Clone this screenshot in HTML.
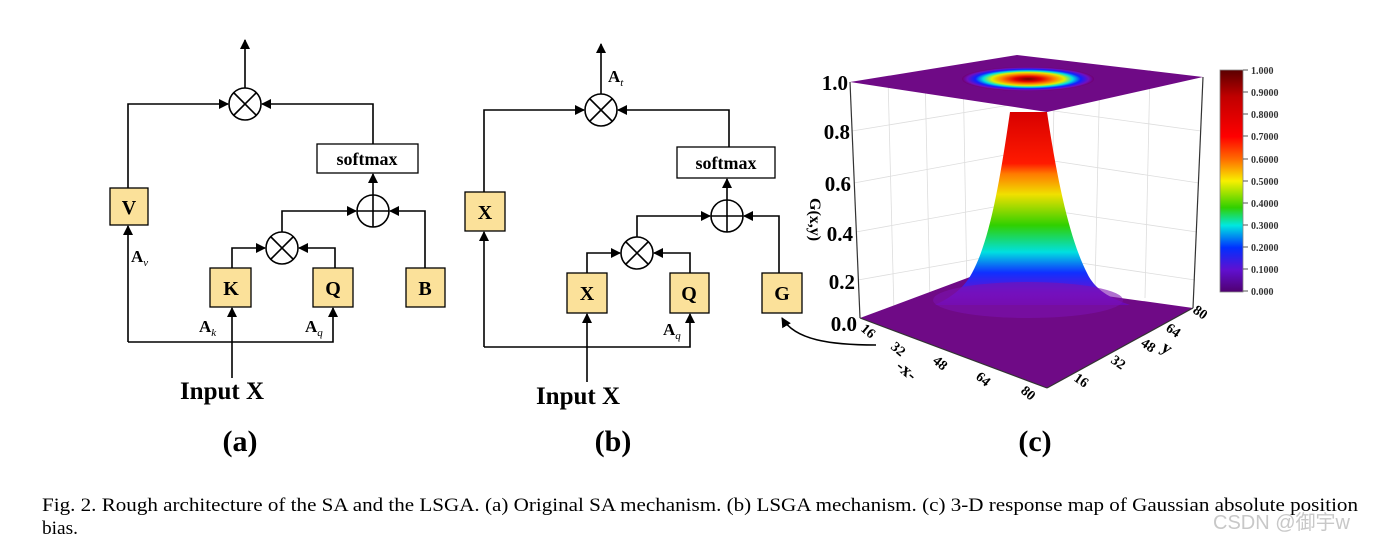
<!DOCTYPE html>
<html><head><meta charset="utf-8"><style>
html,body{margin:0;padding:0;background:#fff;}
svg{display:block;}
text{font-family:"Liberation Serif",serif;}
</style></head><body>
<svg width="1387" height="546" viewBox="0 0 1387 546" xmlns="http://www.w3.org/2000/svg">
<defs>
<marker id="ar" markerWidth="10" markerHeight="10" refX="9" refY="5" orient="auto" markerUnits="userSpaceOnUse">
<path d="M0,0 L10,5 L0,10 z" fill="#000"/></marker>
<linearGradient id="cone" x1="0" y1="112" x2="0" y2="318" gradientUnits="userSpaceOnUse">
<stop offset="0" stop-color="#d80000"/><stop offset="0.25" stop-color="#ff1a00"/>
<stop offset="0.3" stop-color="#ff7a00"/><stop offset="0.4" stop-color="#f0e000"/>
<stop offset="0.55" stop-color="#30d000"/><stop offset="0.68" stop-color="#00e0e0"/>
<stop offset="0.78" stop-color="#1030ff"/><stop offset="0.88" stop-color="#6a10d0"/>
<stop offset="1" stop-color="#700090"/></linearGradient>
<linearGradient id="cb" x1="0" y1="70" x2="0" y2="292" gradientUnits="userSpaceOnUse">
<stop offset="0" stop-color="#5a0000"/><stop offset="0.12" stop-color="#c00000"/>
<stop offset="0.3" stop-color="#ff0000"/><stop offset="0.4" stop-color="#ff6a00"/>
<stop offset="0.5" stop-color="#f8f000"/><stop offset="0.62" stop-color="#30d000"/>
<stop offset="0.7" stop-color="#00e8e0"/><stop offset="0.8" stop-color="#0030ff"/>
<stop offset="0.9" stop-color="#6010d0"/><stop offset="1" stop-color="#500070"/></linearGradient>
<radialGradient id="ring" cx="0.5" cy="0.5" r="0.5">
<stop offset="0" stop-color="#700000"/><stop offset="0.2" stop-color="#e00000"/>
<stop offset="0.4" stop-color="#ff8000"/><stop offset="0.55" stop-color="#e0f000"/>
<stop offset="0.68" stop-color="#00e0e0"/><stop offset="0.8" stop-color="#1020ff"/>
<stop offset="0.92" stop-color="#7010c0"/><stop offset="1" stop-color="#700070"/></radialGradient>
</defs>

<g stroke="#000" stroke-width="1.6" fill="none">
<line x1="245" y1="88" x2="245" y2="40" marker-end="url(#ar)"/>
<circle cx="245" cy="104" r="16"/>
<line x1="234" y1="93" x2="256" y2="115"/><line x1="256" y1="93" x2="234" y2="115"/>
<polyline points="128,188 128,104 228,104" marker-end="url(#ar)"/>
<polyline points="373,144 373,104 262,104" marker-end="url(#ar)"/>
<line x1="373" y1="195" x2="373" y2="174" marker-end="url(#ar)"/>
<circle cx="373" cy="211" r="16"/>
<line x1="357" y1="211" x2="389" y2="211"/><line x1="373" y1="195" x2="373" y2="227"/>
<polyline points="282,232 282,211 356,211" marker-end="url(#ar)"/>
<polyline points="425,268 425,211 390,211" marker-end="url(#ar)"/>
<circle cx="282" cy="248" r="16"/>
<line x1="271" y1="237" x2="293" y2="259"/><line x1="293" y1="237" x2="271" y2="259"/>
<polyline points="232,268 232,248 265,248" marker-end="url(#ar)"/>
<polyline points="335,268 335,248 299,248" marker-end="url(#ar)"/>
<polyline points="128,342 333,342 333,308" marker-end="url(#ar)"/>
<polyline points="128,342 128,226" marker-end="url(#ar)"/>
<line x1="232" y1="378" x2="232" y2="308" marker-end="url(#ar)"/>
<line x1="601" y1="94" x2="601" y2="44" marker-end="url(#ar)"/>
<circle cx="601" cy="110" r="16"/>
<line x1="590" y1="99" x2="612" y2="121"/><line x1="612" y1="99" x2="590" y2="121"/>
<polyline points="484,192 484,110 584,110" marker-end="url(#ar)"/>
<polyline points="729,147 729,110 618,110" marker-end="url(#ar)"/>
<line x1="727" y1="200" x2="727" y2="179" marker-end="url(#ar)"/>
<circle cx="727" cy="216" r="16"/>
<line x1="711" y1="216" x2="743" y2="216"/><line x1="727" y1="200" x2="727" y2="232"/>
<polyline points="637,237 637,216 710,216" marker-end="url(#ar)"/>
<polyline points="779,273 779,216 744,216" marker-end="url(#ar)"/>
<circle cx="637" cy="253" r="16"/>
<line x1="626" y1="242" x2="648" y2="264"/><line x1="648" y1="242" x2="626" y2="264"/>
<polyline points="587,273 587,253 620,253" marker-end="url(#ar)"/>
<polyline points="690,273 690,253 654,253" marker-end="url(#ar)"/>
<polyline points="484,347 690,347 690,314" marker-end="url(#ar)"/>
<polyline points="484,347 484,232" marker-end="url(#ar)"/>
<line x1="587" y1="382" x2="587" y2="314" marker-end="url(#ar)"/>
<path d="M876,345 C830,345 795,340 782,318" marker-end="url(#ar)"/>
</g>
<g stroke="#000" stroke-width="1.3" fill="#fbe19a">
<rect x="110" y="188" width="38" height="37"/>
<rect x="210" y="268" width="41" height="39"/>
<rect x="313" y="268" width="40" height="39"/>
<rect x="406" y="268" width="39" height="39"/>
<rect x="465" y="192" width="40" height="39"/>
<rect x="567" y="273" width="40" height="40"/>
<rect x="670" y="273" width="39" height="40"/>
<rect x="762" y="273" width="40" height="40"/>
<rect x="317" y="144" width="101" height="29" fill="#fff"/>
<rect x="677" y="147" width="98" height="31" fill="#fff"/>
</g>
<g font-weight="bold" font-size="20" text-anchor="middle">
<text x="129" y="214">V</text><text x="231" y="295">K</text><text x="333" y="295">Q</text><text x="425" y="295">B</text>
<text x="485" y="219">X</text><text x="587" y="300">X</text><text x="689" y="300">Q</text><text x="782" y="300">G</text>
<text x="367" y="165" font-size="18">softmax</text><text x="726" y="169" font-size="18">softmax</text>
<text x="222" y="399" font-size="25">Input X</text><text x="578" y="404" font-size="25">Input X</text>
<text x="240" y="451" font-size="30">(a)</text><text x="613" y="451" font-size="30">(b)</text><text x="1035" y="451" font-size="30">(c)</text>
</g>
<g font-weight="bold" font-size="17">
<text x="131" y="262">A<tspan font-size="11" font-style="italic" font-weight="normal" dy="4">v</tspan></text>
<text x="199" y="332">A<tspan font-size="11" font-style="italic" font-weight="normal" dy="4">k</tspan></text>
<text x="305" y="332">A<tspan font-size="11" font-style="italic" font-weight="normal" dy="4">q</tspan></text>
<text x="608" y="82">A<tspan font-size="11" font-style="italic" font-weight="normal" dy="4">t</tspan></text>
<text x="663" y="335">A<tspan font-size="11" font-style="italic" font-weight="normal" dy="4">q</tspan></text>
</g>

<g stroke="#ddd" stroke-width="0.8" fill="none">
<line x1="888" y1="78" x2="894" y2="312"/><line x1="925" y1="73" x2="930" y2="303"/><line x1="963" y1="65" x2="967" y2="292"/>
<line x1="1055" y1="60" x2="1050" y2="282"/><line x1="1100" y1="65" x2="1095" y2="288"/><line x1="1150" y1="70" x2="1145" y2="298"/>
<line x1="852" y1="131" x2="1016" y2="104"/><line x1="854" y1="183" x2="1016" y2="153"/><line x1="856" y1="232" x2="1016" y2="203"/><line x1="858" y1="280" x2="1016" y2="252"/>
<line x1="1047" y1="110" x2="1201" y2="131"/><line x1="1047" y1="160" x2="1199" y2="183"/><line x1="1047" y1="210" x2="1197" y2="232"/><line x1="1047" y1="258" x2="1195" y2="280"/>
</g>
<polygon points="860,318 970,277 1193,308 1047,388" fill="#6f0a86"/>
<path d="M1010,112 C1000,180 990,240 972,273 C962,292 945,300 935,305 L1130,305 C1110,298 1095,290 1087,273 C1070,240 1057,180 1047,112 Z" fill="url(#cone)"/>
<ellipse cx="1028" cy="300" rx="95" ry="18" fill="#7c10b0" opacity="0.6"/>
<polygon points="850,82 1017,55 1203,77 1047,112" fill="#6f0a86"/>
<ellipse cx="1028" cy="79" rx="66" ry="12" fill="url(#ring)"/>
<g stroke="#333" stroke-width="1.2" fill="none">
<line x1="850" y1="82" x2="860" y2="318"/><line x1="1203" y1="77" x2="1193" y2="308"/>
<line x1="860" y1="318" x2="1047" y2="388"/><line x1="1047" y1="388" x2="1193" y2="308"/>
</g>
<g font-weight="bold" font-size="21" text-anchor="end">
<text x="848" y="90">1.0</text><text x="850" y="139">0.8</text><text x="851" y="191">0.6</text>
<text x="853" y="241">0.4</text><text x="855" y="289">0.2</text><text x="857" y="331">0.0</text>
</g>
<text x="0" y="0" font-weight="bold" font-size="16" transform="translate(810,198) rotate(90)">G(x,y)</text>
<g font-weight="bold" font-size="14">
<text transform="translate(860,330) rotate(40)">16</text>
<text transform="translate(890,348) rotate(40)">32</text>
<text transform="translate(932,362) rotate(40)">48</text>
<text transform="translate(975,378) rotate(40)">64</text>
<text transform="translate(1020,392) rotate(40)">80</text>
<text transform="translate(895,368) rotate(40)" font-size="18">-x-</text>
<text transform="translate(1192,312) rotate(35)">80</text>
<text transform="translate(1165,330) rotate(35)">64</text>
<text transform="translate(1140,345) rotate(35)">48</text>
<text transform="translate(1110,362) rotate(35)">32</text>
<text transform="translate(1073,380) rotate(35)">16</text>
<text transform="translate(1160,350) rotate(35)" font-size="18">y</text>
</g>
<rect x="1220" y="70" width="23" height="222" fill="url(#cb)" stroke="#888" stroke-width="0.8"/>
<g stroke="#555" stroke-width="1"><line x1="1243" y1="70" x2="1248" y2="70"/><line x1="1243" y1="92" x2="1248" y2="92"/><line x1="1243" y1="114" x2="1248" y2="114"/><line x1="1243" y1="136" x2="1248" y2="136"/><line x1="1243" y1="159" x2="1248" y2="159"/><line x1="1243" y1="181" x2="1248" y2="181"/><line x1="1243" y1="203" x2="1248" y2="203"/><line x1="1243" y1="225" x2="1248" y2="225"/><line x1="1243" y1="247" x2="1248" y2="247"/><line x1="1243" y1="269" x2="1248" y2="269"/><line x1="1243" y1="291" x2="1248" y2="291"/></g>
<g font-weight="bold" font-size="10" fill="#333">
<text x="1251" y="74">1.000</text><text x="1251" y="96">0.9000</text><text x="1251" y="118">0.8000</text>
<text x="1251" y="140">0.7000</text><text x="1251" y="163">0.6000</text><text x="1251" y="185">0.5000</text>
<text x="1251" y="207">0.4000</text><text x="1251" y="229">0.3000</text><text x="1251" y="251">0.2000</text>
<text x="1251" y="273">0.1000</text><text x="1251" y="295">0.000</text>
</g>

<text x="42" y="511" font-size="19" textLength="1316" lengthAdjust="spacingAndGlyphs">Fig. 2.   Rough architecture of the SA and the LSGA. (a) Original SA mechanism. (b) LSGA mechanism. (c) 3-D response map of Gaussian absolute position</text>
<text x="42" y="534" font-size="19" textLength="36" lengthAdjust="spacingAndGlyphs">bias.</text>
<text x="1213" y="529" font-size="20" fill="#c8c8c8" style="font-family:'Liberation Sans','Noto Sans CJK SC',sans-serif">CSDN @御宇w</text>
</svg>
</body></html>
